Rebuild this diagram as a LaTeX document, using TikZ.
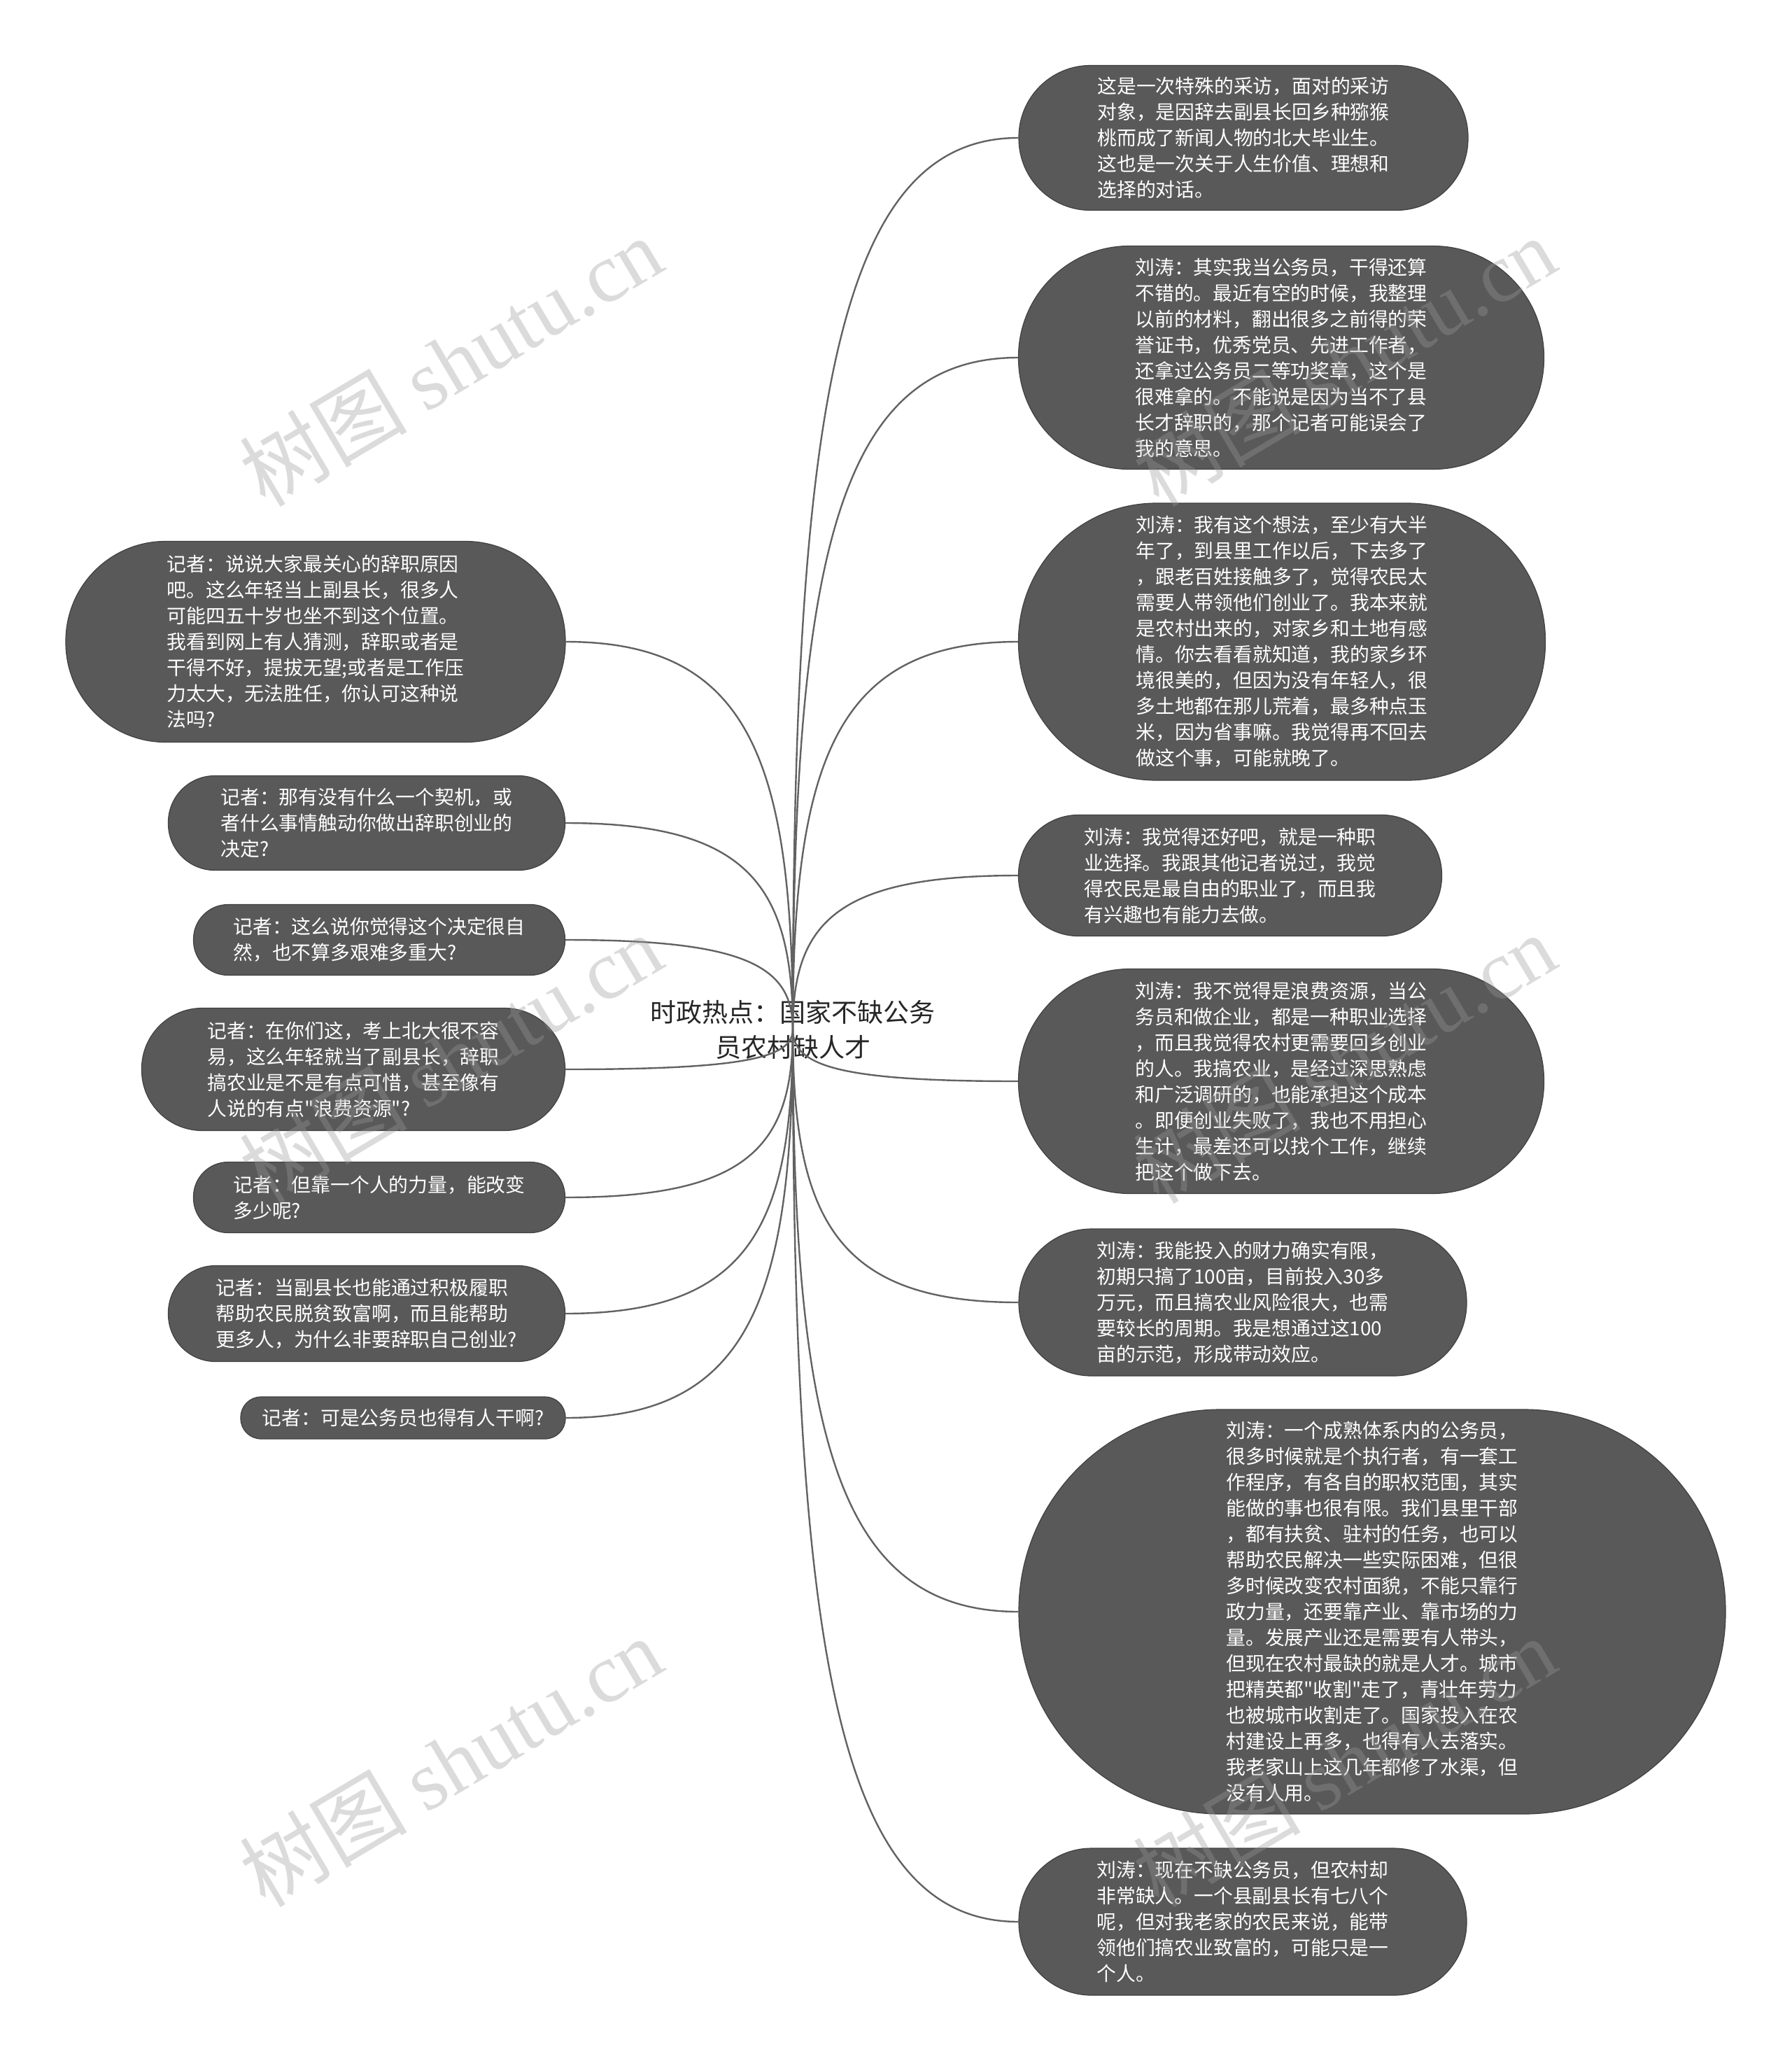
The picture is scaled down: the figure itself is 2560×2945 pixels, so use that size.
\documentclass[tikz,border=0pt]{standalone}
\usepackage{fontspec}
\newfontfamily\cjk{Noto Sans CJK SC}
\newfontfamily\markfont{Liberation Serif}
\usetikzlibrary{calc}

\definecolor{bubblegray}{HTML}{595959}
\definecolor{linkgray}{HTML}{626262}

\tikzset{
  bubble/.style={draw=black!75, line width=0.6pt, fill=bubblegray, text=white,
    align=left, inner sep=0pt, font=\cjk\fontsize{13.9}{18.5}\selectfont},
  boxsize/.style 2 args={minimum width=#1*0.5pt, minimum height=#2*0.5pt,
    rounded corners=#2*0.25pt-0.5pt},
  link/.style={draw=linkgray, line width=1.2pt},
  branch/.style={to path={.. controls ($(\tikztostart)!0.7!(\tikztostart|-\tikztotarget)$)
    and ($(\tikztotarget)!0.8!(\tikztostart|-\tikztotarget)$) .. (\tikztotarget)}},
  wmark/.style={rotate=30.7, text=black!40, opacity=0.35, font=\cjk\fontsize{60}{60}\selectfont}
}

\begin{document}
\begin{tikzpicture}[x=0.5pt, y=-0.5pt]
\useasboundingbox (0,0) rectangle (2560,2945);

% Central topic
\node[font=\cjk\fontsize{18.5}{25}\selectfont, text=black!85, align=center] (ctr) at (1133,1471)
  {时政热点：国家不缺公务\\员农村缺人才};
\coordinate (hub) at (ctr.center);

% Answers (right side)
\node[bubble, boxsize={642}{207}] (r1) at (1777,197) {这是一次特殊的采访，面对的采访\\对象，是因辞去副县长回乡种猕猴\\桃而成了新闻人物的北大毕业生。\\这也是一次关于人生价值、理想和\\选择的对话。};
\node[bubble, boxsize={751}{319}] (r2) at (1831,511) {刘涛：其实我当公务员，干得还算\\不错的。最近有空的时候，我整理\\以前的材料，翻出很多之前得的荣\\誉证书，优秀党员、先进工作者，\\还拿过公务员二等功奖章，这个是\\很难拿的。不能说是因为当不了县\\长才辞职的，那个记者可能误会了\\我的意思。};
\node[bubble, boxsize={753}{396}] (r3) at (1832,917) {刘涛：我有这个想法，至少有大半\\年了，到县里工作以后，下去多了\\，跟老百姓接触多了，觉得农民太\\需要人带领他们创业了。我本来就\\是农村出来的，对家乡和土地有感\\情。你去看看就知道，我的家乡环\\境很美的，但因为没有年轻人，很\\多土地都在那儿荒着，最多种点玉\\米，因为省事嘛。我觉得再不回去\\做这个事，可能就晚了。};
\node[bubble, boxsize={605}{173}] (r4) at (1758,1251) {刘涛：我觉得还好吧，就是一种职\\业选择。我跟其他记者说过，我觉\\得农民是最自由的职业了，而且我\\有兴趣也有能力去做。};
\node[bubble, boxsize={751}{321}] (r5) at (1831,1545) {刘涛：我不觉得是浪费资源，当公\\务员和做企业，都是一种职业选择\\，而且我觉得农村更需要回乡创业\\的人。我搞农业，是经过深思熟虑\\和广泛调研的，也能承担这个成本\\。即便创业失败了，我也不用担心\\生计，最差还可以找个工作，继续\\把这个做下去。};
\node[bubble, boxsize={640}{210}] (r6) at (1776,1861) {刘涛：我能投入的财力确实有限，\\初期只搞了100亩，目前投入30多\\万元，而且搞农业风险很大，也需\\要较长的周期。我是想通过这100\\亩的示范，形成带动效应。};
\node[bubble, boxsize={1010}{578}] (r7) at (1961,2303) {刘涛：一个成熟体系内的公务员，\\很多时候就是个执行者，有一套工\\作程序，有各自的职权范围，其实\\能做的事也很有限。我们县里干部\\，都有扶贫、驻村的任务，也可以\\帮助农民解决一些实际困难，但很\\多时候改变农村面貌，不能只靠行\\政力量，还要靠产业、靠市场的力\\量。发展产业还是需要有人带头，\\但现在农村最缺的就是人才。城市\\把精英都"收割"走了，青壮年劳力\\也被城市收割走了。国家投入在农\\村建设上再多，也得有人去落实。\\我老家山上这几年都修了水渠，但\\没有人用。};
\node[bubble, boxsize={640}{210}] (r8) at (1776,2746) {刘涛：现在不缺公务员，但农村却\\非常缺人。一个县副县长有七八个\\呢，但对我老家的农民来说，能带\\领他们搞农业致富的，可能只是一\\个人。};

% Questions (left side)
\node[bubble, boxsize={714}{287}] (l1) at (451,917) {记者：说说大家最关心的辞职原因\\吧。这么年轻当上副县长，很多人\\可能四五十岁也坐不到这个位置。\\我看到网上有人猜测，辞职或者是\\干得不好，提拔无望;或者是工作压\\力太大，无法胜任，你认可这种说\\法吗?};
\node[bubble, boxsize={567}{135}] (l2) at (524,1176) {记者：那有没有什么一个契机，或\\者什么事情触动你做出辞职创业的\\决定?};
\node[bubble, boxsize={531}{101}] (l3) at (542,1343) {记者：这么说你觉得这个决定很自\\然，也不算多艰难多重大?};
\node[bubble, boxsize={605}{175}] (l4) at (505,1528) {记者：在你们这，考上北大很不容\\易，这么年轻就当了副县长，辞职\\搞农业是不是有点可惜，甚至像有\\人说的有点"浪费资源"?};
\node[bubble, boxsize={531}{101}] (l5) at (542,1711) {记者：但靠一个人的力量，能改变\\多少呢?};
\node[bubble, boxsize={567}{137}] (l6) at (524,1877) {记者：当副县长也能通过积极履职\\帮助农民脱贫致富啊，而且能帮助\\更多人，为什么非要辞职自己创业?};
\node[bubble, boxsize={464}{60}] (l7) at (576,2026) {记者：可是公务员也得有人干啊?};

% Branches
\foreach \n in {r1,r2,r3,r4,r5,r6,r7,r8}
  \draw[link] (hub) to[branch] (\n.west);
\foreach \n in {l1,l2,l3,l4,l5,l6,l7}
  \draw[link] (hub) to[branch] (\n.east);

% Watermarks
\node[wmark] (wm1) at (644,516) {树图 {\markfont shutu.cn}};
\node[wmark] (wm2) at (1921,516) {树图 {\markfont shutu.cn}};
\node[wmark] (wm3) at (644,1512) {树图 {\markfont shutu.cn}};
\node[wmark] (wm4) at (1921,1512) {树图 {\markfont shutu.cn}};
\node[wmark] (wm5) at (644,2517) {树图 {\markfont shutu.cn}};
\node[wmark] (wm6) at (1921,2517) {树图 {\markfont shutu.cn}};
\end{tikzpicture}
\end{document}
